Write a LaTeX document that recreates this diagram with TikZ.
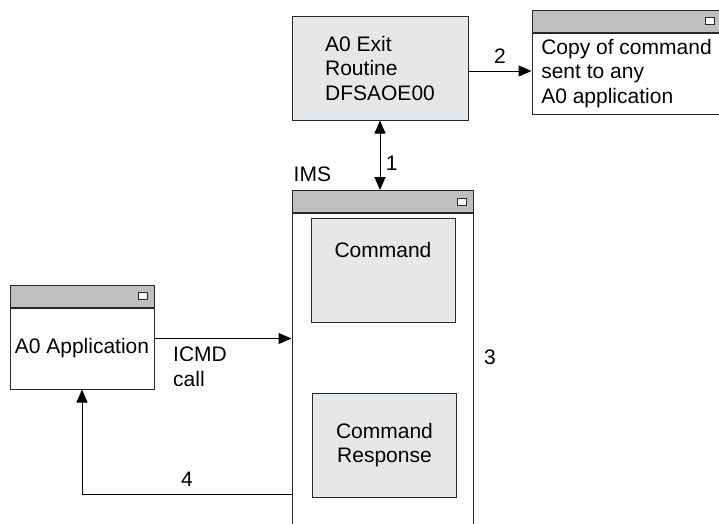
\documentclass[tikz,border=0pt]{standalone}
\usepackage{fontspec}
\setmainfont{Liberation Sans}
\usetikzlibrary{arrows.meta,positioning,calc}

\definecolor{bargray}{RGB}{190,191,193}
\definecolor{boxgray}{RGB}{230,231,232}
\definecolor{edgegray}{RGB}{40,40,40}

\tikzset{
  txt/.style={font=\fontsize{21}{24.5}\selectfont},
  win/.style={draw=edgegray, line width=1pt, fill=white, inner sep=0pt},
  titlebar/.style={draw=edgegray, line width=1pt, fill=bargray, minimum height=22pt, inner sep=0pt},
  btn/.style={draw=edgegray, line width=0.8pt, fill=white, minimum width=9pt, minimum height=7pt, inner sep=0pt},
  greybox/.style={draw=edgegray, line width=1pt, fill=boxgray, inner sep=0pt, minimum width=144pt, minimum height=104pt},
  flow/.style={line width=1pt, -{Triangle[length=13pt,width=11pt]}},
}

% small button at the right end of a title bar
\newcommand{\winbtn}[1]{\node[btn, anchor=east] (#1btn) at ([xshift=-7pt]#1.east) {};}

\begin{document}
\begin{tikzpicture}[x=1pt, y=-1pt]
\useasboundingbox (0,0) rectangle (719,523);

% Exit routine
\node[greybox, txt, minimum width=176pt, align=left] (exit) at (380,68) {A0 Exit\\Routine\\DFSAOE00};

% Copy window
\node[win, txt, minimum width=189pt, minimum height=81pt, align=left] (copy) at (626.5,73.5) {Copy of command\\sent to any\\A0 application};
\node[titlebar, minimum width=189pt, anchor=south] (copybar) at (copy.north) {};
\winbtn{copybar}

% IMS window (runs off the bottom)
\node[win, minimum width=181pt, minimum height=330pt, anchor=north] (ims) at (382.5,213) {};
\node[titlebar, minimum width=181pt, anchor=south] (imsbar) at (ims.north) {};
\winbtn{imsbar}
\node[txt, inner sep=0pt, anchor=base west] (imslabel) at ($(imsbar.north west)+(2,-9)$) {IMS};

\node[greybox, label={[txt, inner sep=0pt, anchor=north, yshift=-25pt]north:Command}] (cmd) at (383,270) {};
\node[greybox, txt, align=center] (resp) at (384.5,445) {Command\\Response};
\node[txt] (n3) at (490,357) {3};

% Application window
\node[win, txt, minimum width=144pt, minimum height=81pt] (app) at (82,348.5) {A0 Application};
\node[titlebar, minimum width=144pt, anchor=south] (appbar) at (app.north) {};
\winbtn{appbar}

% Connectors
\draw[flow] ([yshift=-3pt]exit.east) -- ([yshift=-3pt]exit.east -| copy.west)
  node[txt, midway, above=4pt] (n2) {2};
\draw[flow, {Triangle[length=13pt,width=11pt]}-{Triangle[length=13pt,width=11pt]}] (exit.south) -- (exit.south |- imsbar.north)
  node[txt, pos=0.62, right=2pt] (n1) {1};
\draw[flow] ([yshift=10pt]app.east) -- ([yshift=10pt]app.east -| ims.west);
\node[txt, align=left, anchor=north west, inner sep=0pt] (icmd) at (173,347) {ICMD\\call};
\coordinate (ret) at (292,494);
\draw[flow] (ret) -| (app.south) node[txt, pos=0.25, above=4pt] (n4) {4};

\end{tikzpicture}
\end{document}
